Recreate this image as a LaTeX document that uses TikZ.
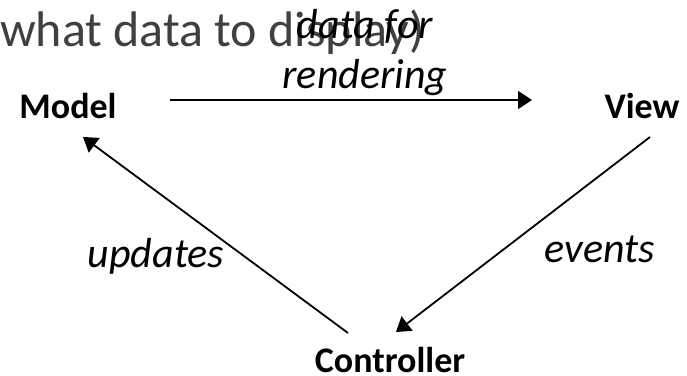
\documentclass[tikz,border=0pt]{standalone}
\usepackage{fontspec}
\setmainfont{Carlito}
\usetikzlibrary{arrows.meta}
\definecolor{greytext}{HTML}{404040}
\begin{document}
\begin{tikzpicture}[x=1pt,y=-1pt,
  every node/.style={inner sep=0pt, outer sep=0pt},
  part/.style={font=\fontsize{36}{40}\selectfont\bfseries, anchor=base},
  flowlabel/.style={font=\fontsize{42}{50}\selectfont\itshape, anchor=base},
  flow/.style={line width=1.8pt, -{Triangle[length=14pt,width=18pt]}}]
  \useasboundingbox (0,0) rectangle (687,375);

  % leftover slide caption behind the diagram
  \node[anchor=base west, text=greytext, font=\fontsize{50}{60}\selectfont] (caption) at (0,46) {what data to display)};

  % the three parts
  \node[part] (model) at (68,118) {Model};
  \node[part] (view) at (642,118) {View};
  \node[part] (controller) at (390,372) {Controller};

  % end points of the connectors
  \coordinate (model-out) at (170,100);
  \coordinate (view-in) at (532,100);
  \coordinate (view-out) at (650,137);
  \coordinate (controller-in) at (396,332);
  \coordinate (controller-out) at (348,333);
  \coordinate (model-in) at (83,137);

  \draw[flow] (model-out) -- (view-in);
  \draw[flow] (view-out) -- (controller-in);
  \draw[flow] (controller-out) -- (model-in);

  % connector labels
  \node[flowlabel] (render1) at (365,38) {data for};
  \node[flowlabel] (render2) at (365,88) {rendering};
  \node[flowlabel] (updates) at (156,267) {updates};
  \node[flowlabel] (events) at (600,262) {events};
\end{tikzpicture}
\end{document}
